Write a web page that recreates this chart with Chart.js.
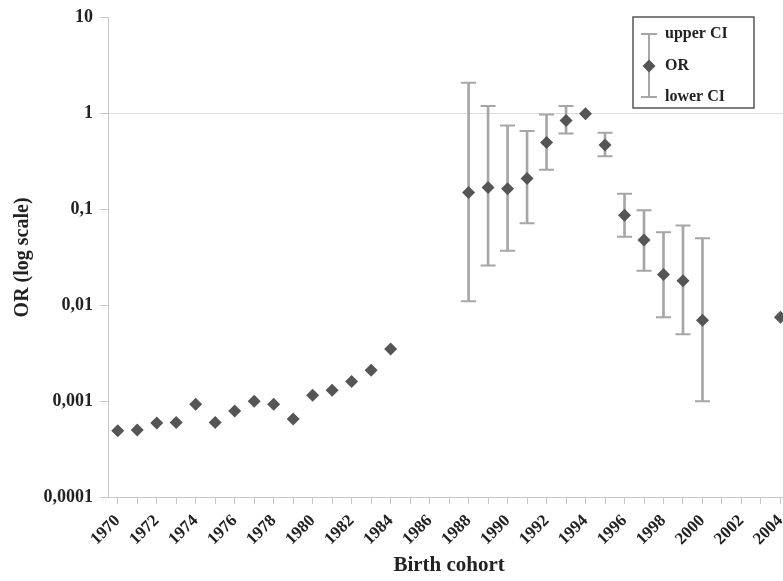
<!DOCTYPE html>
<html><head><meta charset="utf-8">
<script src="https://cdn.jsdelivr.net/npm/chart.js@4"></script>
<style>html,body{margin:0;padding:0;overflow:hidden;background:#fff}
#wrap{width:802px;height:581px;position:relative}</style></head>
<body><div id="wrap"><canvas id="c"></canvas></div>
<script>
const years = [1970,1971,1972,1973,1974,1975,1976,1977,1978,1979,1980,1981,1982,1983,1984,1985,1986,1987,1988,1989,1990,1991,1992,1993,1994,1995,1996,1997,1998,1999,2000,2001,2002,2003,2004];
const orValues = [0.00049,0.0005,0.00059,0.0006,0.00093,0.0006,0.00079,0.001,0.00093,0.00065,0.00115,0.0013,0.0016,0.0021,0.0035,null,null,null,0.15,0.17,0.165,0.21,0.5,0.85,1.0,0.47,0.087,0.048,0.021,0.018,0.007,null,null,null,0.0075];
const upperCI = [null,null,null,null,null,null,null,null,null,null,null,null,null,null,null,null,null,null,2.1,1.2,0.75,0.66,0.98,1.2,null,0.63,0.146,0.098,0.058,0.068,0.05,null,null,null,null];
const lowerCI = [null,null,null,null,null,null,null,null,null,null,null,null,null,null,null,null,null,null,0.011,0.026,0.037,0.072,0.26,0.62,null,0.36,0.052,0.023,0.0075,0.005,0.001,null,null,null,null];
const yTickValues = [0.0001,0.001,0.01,0.1,1,10];
const yTickLabels = ['0,0001','0,001','0,01','0,1','1','10'];
const legendLabels = ['upper CI','OR','lower CI'];

const FONT = "'Liberation Serif','Times New Roman',serif";
const barColor = '#a6a6a6';
const markColor = '#555555';
const axisColor = '#c8c8c8';

const ciRanges = years.map((y,i)=> (lowerCI[i]!=null && upperCI[i]!=null) ? [lowerCI[i], upperCI[i]] : null);

const legendPlugin = {
  id:'ciLegend',
  afterDraw(chart){
    const ctx = chart.ctx;
    ctx.save();
    const x0=633, y0=17, w=121, h=91;
    ctx.strokeStyle='#555'; ctx.lineWidth=1.5;
    ctx.fillStyle='#fff';
    ctx.fillRect(x0,y0,w,h);
    ctx.strokeRect(x0,y0,w,h);
    const cx=649, yt=34, ym=66, yb=97;
    ctx.strokeStyle=barColor; ctx.lineWidth=2;
    ctx.beginPath(); ctx.moveTo(cx,yt); ctx.lineTo(cx,yb);
    ctx.moveTo(cx-8,yt); ctx.lineTo(cx+8,yt);
    ctx.moveTo(cx-8,yb); ctx.lineTo(cx+8,yb); ctx.stroke();
    ctx.fillStyle=markColor;
    ctx.beginPath(); ctx.moveTo(cx,ym-6.5); ctx.lineTo(cx+6.5,ym); ctx.lineTo(cx,ym+6.5); ctx.lineTo(cx-6.5,ym); ctx.closePath(); ctx.fill();
    ctx.fillStyle='#222'; ctx.font='bold 16px '+FONT; ctx.textBaseline='middle'; ctx.textAlign='left';
    ctx.fillText(legendLabels[0],665,yt);
    ctx.fillText(legendLabels[1],665,ym);
    ctx.fillText(legendLabels[2],665,yb);
    ctx.restore();
  }
};

new Chart(document.getElementById('c'),{
  type:'bar',
  data:{
    labels: years.map(String),
    datasets:[
      {type:'bar', data:ciRanges, backgroundColor:barColor, barThickness:2, grouped:false, order:3},
      {type:'line', data:upperCI, showLine:false, pointStyle:'line', pointRadius:7.5, pointHoverRadius:7.5, pointBorderWidth:2, borderColor:barColor, backgroundColor:barColor, order:2},
      {type:'line', data:lowerCI, showLine:false, pointStyle:'line', pointRadius:7.5, pointHoverRadius:7.5, pointBorderWidth:2, borderColor:barColor, backgroundColor:barColor, order:2},
      {type:'line', data:orValues, showLine:false, pointStyle:'rectRot', pointRadius:6.5, pointHoverRadius:6.5, pointBorderWidth:0, borderColor:markColor, backgroundColor:markColor, order:1}
    ]
  },
  options:{
    responsive:true, maintainAspectRatio:false, animation:false,
    layout:{padding:{top:14,left:0,right:2,bottom:0}},
    plugins:{legend:{display:false}, tooltip:{enabled:false}},
    scales:{
      x:{
        offset:true,
        grid:{display:true, offset:false, color:'rgba(0,0,0,0)', tickColor:axisColor, tickLength:7, drawOnChartArea:false},
        border:{display:true,color:axisColor,width:1},
        ticks:{autoSkip:false, maxRotation:45, minRotation:45, padding:7, color:'#222', font:{family:FONT,size:17,weight:'bold'},
          callback:(v,i)=> years[i]%2===0 ? String(years[i]) : ''},
        title:{display:true,text:'Birth cohort',color:'#222',font:{family:FONT,size:21,weight:'bold'},padding:{top:0,bottom:3}},
        afterFit:(s)=>{s.height=84;}
      },
      y:{
        type:'logarithmic', min:0.0001, max:10,
        afterBuildTicks:(s)=>{s.ticks = yTickValues.map(v=>({value:v}));},
        grid:{color:(c)=> (c.tick && c.tick.value===1) ? '#dcdcdc' : 'rgba(0,0,0,0)', tickColor:axisColor, tickLength:8},
        border:{display:true,color:axisColor,width:1},
        ticks:{color:'#222', font:{family:FONT,size:18,weight:'bold'}, padding:7,
          callback:(v)=>{const i=yTickValues.indexOf(v); return i>=0?yTickLabels[i]:'';}},
        title:{display:true,text:'OR (log scale)',color:'#222',font:{family:FONT,size:20,weight:'bold'},padding:{top:11,bottom:0}},
        afterFit:(s)=>{s.width=108;}
      }
    }
  },
  plugins:[legendPlugin]
});
</script></body></html>
